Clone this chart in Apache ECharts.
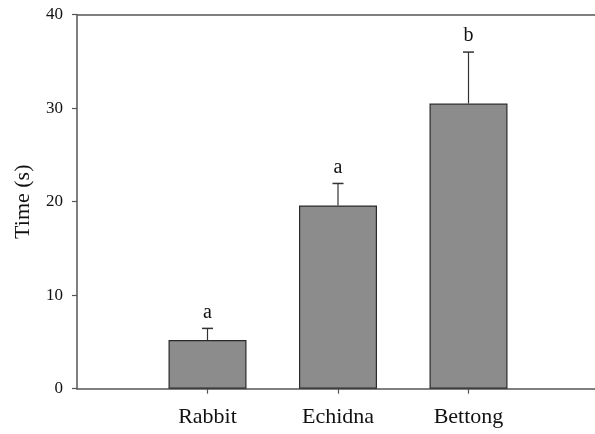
<!DOCTYPE html>
<html><head><meta charset="utf-8">
<script src="https://cdn.jsdelivr.net/npm/echarts@6/dist/echarts.min.js"></script>
<style>html,body{margin:0;padding:0;background:#fff}#c{width:595px;height:434px}</style>
</head><body><div id="c"></div>
<script>
var categories = ['', 'Rabbit', 'Echidna', 'Bettong', ''];
var means = [null, 5.2, 19.6, 30.5, null];
var errors = [null, 1.25, 2.35, 5.5, null];
var letters = ['', 'a', 'a', 'b', ''];
var yTicks = [0, 10, 20, 30, 40];

var chart = echarts.init(document.getElementById('c'));
var font = '"Liberation Serif", "Times New Roman", serif';
var errData = [];
for (var i = 0; i < categories.length; i++) {
  if (means[i] != null) errData.push([i, means[i], means[i] + errors[i], letters[i]]);
}
chart.setOption({
  animation: false,
  grid: { left: 77, top: 14.7, width: 522, height: 374, containLabel: false, outerBoundsMode: 'none' },
  xAxis: {
    type: 'category', data: categories, boundaryGap: false,
    axisLine: { lineStyle: { color: '#555', width: 1.5 } },
    axisTick: { length: 5, lineStyle: { color: '#555', width: 1.2 },
      interval: function (idx, v) { return v !== ''; } },
    axisLabel: { fontFamily: font, fontSize: 22, color: '#111', margin: 18,
      interval: function (idx, v) { return v !== ''; } },
    splitLine: { show: false }
  },
  yAxis: {
    type: 'value', min: 0, max: 40, interval: 10,
    name: 'Time (s)', nameLocation: 'middle', nameGap: 43, nameRotate: 90,
    nameTextStyle: { fontFamily: font, fontSize: 22, color: '#111' },
    axisLine: { show: true, lineStyle: { color: '#555', width: 1.5 } },
    axisTick: { show: true, inside: false, length: 5, lineStyle: { color: '#555', width: 1.2 } },
    axisLabel: { fontFamily: font, fontSize: 17, color: '#111', margin: 14,
      formatter: function (v) { return yTicks.indexOf(v) >= 0 ? String(v) : ''; } },
    splitLine: { show: false }
  },
  series: [
    {
      type: 'bar', data: means, barWidth: 78,
      itemStyle: { color: '#8c8c8c', borderColor: '#2a2a2a', borderWidth: 1.2 }
    },
    {
      type: 'line', data: [null, null, null, null, 40],
      showSymbol: false, lineStyle: { width: 0 }, silent: true,
      markLine: { silent: true, symbol: 'none', label: { show: false },
        lineStyle: { color: '#555', width: 1.5, type: 'solid' },
        data: [{ yAxis: 40 }] }
    },
    {
      type: 'custom', data: errData, z: 5,
      renderItem: function (params, api) {
        var base = api.coord([api.value(0), api.value(1)]);
        var top = api.coord([api.value(0), api.value(2)]);
        var x = base[0], hw = 5.5;
        return { type: 'group', children: [
          { type: 'line', shape: { x1: x, y1: base[1], x2: x, y2: top[1] },
            style: { stroke: '#333', lineWidth: 1.2 } },
          { type: 'line', shape: { x1: x - hw, y1: top[1], x2: x + hw, y2: top[1] },
            style: { stroke: '#333', lineWidth: 1.5 } },
          { type: 'text', x: x, y: top[1] - 16,
            style: { text: api.value(3), fill: '#111', font: '20px ' + font,
              textAlign: 'center', textVerticalAlign: 'middle' } }
        ] };
      }
    }
  ]
});
</script></body></html>
